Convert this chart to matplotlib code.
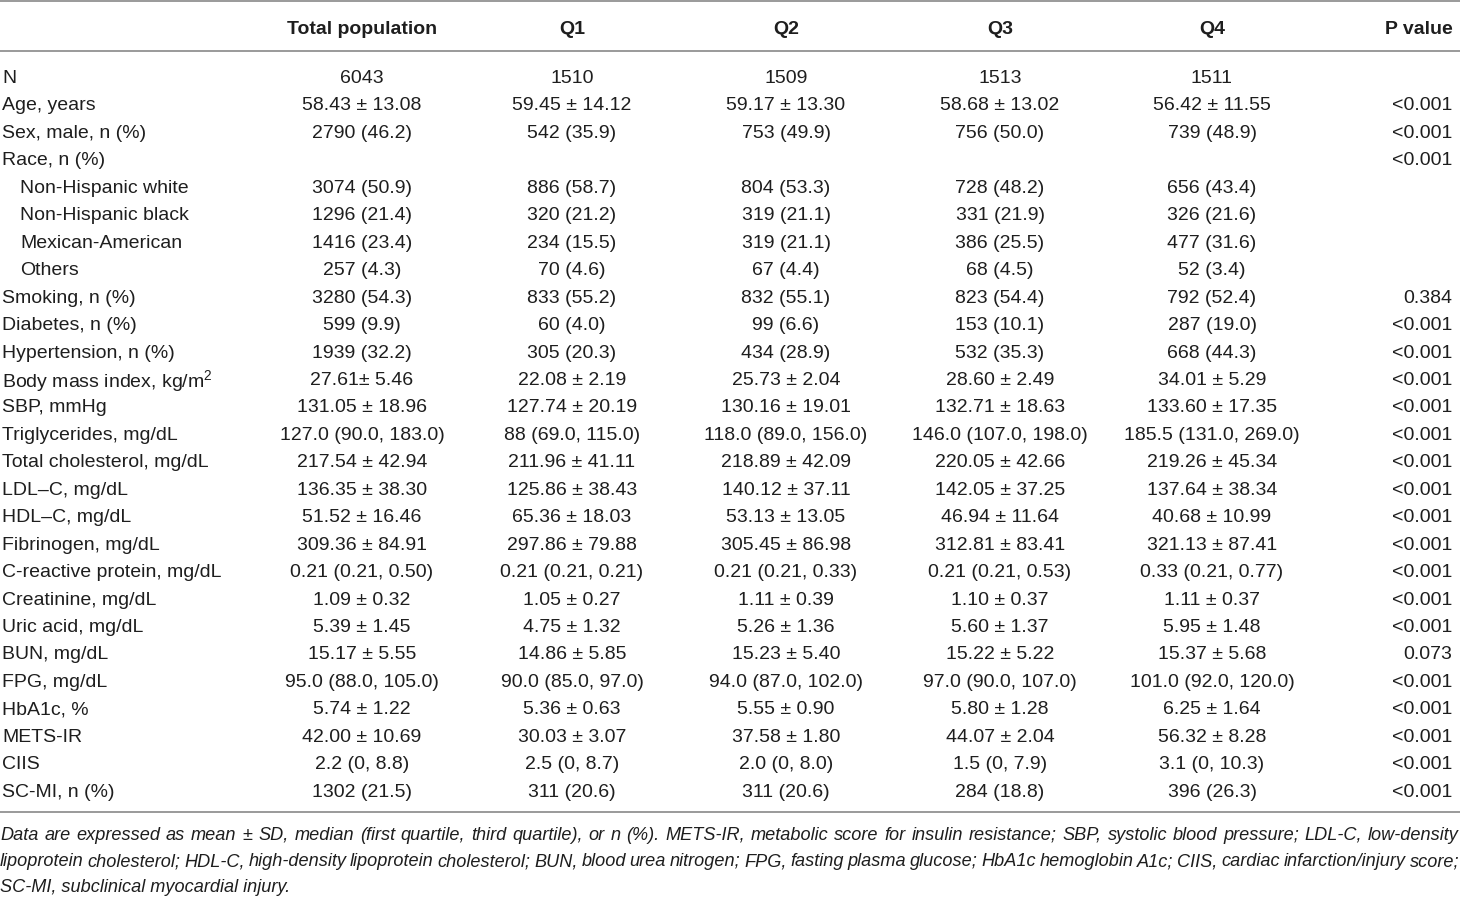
import matplotlib
matplotlib.use('Agg')
from matplotlib import pyplot as plt

plt.rcParams['font.family'] = ['Liberation Sans', 'DejaVu Sans']
plt.rcParams['mathtext.fontset'] = 'custom'
plt.rcParams['mathtext.rm'] = 'Liberation Sans'

headers = ['Total population', 'Q1', 'Q2', 'Q3', 'Q4', 'P value']

labels = ['N', 'Age, years', 'Sex, male, n (%)', 'Race, n (%)',
          'Non-Hispanic white', 'Non-Hispanic black', 'Mexican-American', 'Others',
          'Smoking, n (%)', 'Diabetes, n (%)', 'Hypertension, n (%)',
          'Body mass index, kg/m$^{2}$', 'SBP, mmHg', 'Triglycerides, mg/dL',
          'Total cholesterol, mg/dL', 'LDL\u2013C, mg/dL', 'HDL\u2013C, mg/dL',
          'Fibrinogen, mg/dL', 'C-reactive protein, mg/dL', 'Creatinine, mg/dL',
          'Uric acid, mg/dL', 'BUN, mg/dL', 'FPG, mg/dL', 'HbA1c, %', 'METS-IR',
          'CIIS', 'SC-MI, n (%)']
indented = [False, False, False, False, True, True, True, True] + [False] * 19

total = ['6043', '58.43 \u00b1 13.08', '2790 (46.2)', '', '3074 (50.9)', '1296 (21.4)',
         '1416 (23.4)', '257 (4.3)', '3280 (54.3)', '599 (9.9)', '1939 (32.2)',
         '27.61\u00b1 5.46', '131.05 \u00b1 18.96', '127.0 (90.0, 183.0)',
         '217.54 \u00b1 42.94', '136.35 \u00b1 38.30', '51.52 \u00b1 16.46',
         '309.36 \u00b1 84.91', '0.21 (0.21, 0.50)', '1.09 \u00b1 0.32',
         '5.39 \u00b1 1.45', '15.17 \u00b1 5.55', '95.0 (88.0, 105.0)',
         '5.74 \u00b1 1.22', '42.00 \u00b1 10.69', '2.2 (0, 8.8)', '1302 (21.5)']
q1 = ['1510', '59.45 \u00b1 14.12', '542 (35.9)', '', '886 (58.7)', '320 (21.2)',
      '234 (15.5)', '70 (4.6)', '833 (55.2)', '60 (4.0)', '305 (20.3)',
      '22.08 \u00b1 2.19', '127.74 \u00b1 20.19', '88 (69.0, 115.0)',
      '211.96 \u00b1 41.11', '125.86 \u00b1 38.43', '65.36 \u00b1 18.03',
      '297.86 \u00b1 79.88', '0.21 (0.21, 0.21)', '1.05 \u00b1 0.27',
      '4.75 \u00b1 1.32', '14.86 \u00b1 5.85', '90.0 (85.0, 97.0)',
      '5.36 \u00b1 0.63', '30.03 \u00b1 3.07', '2.5 (0, 8.7)', '311 (20.6)']
q2 = ['1509', '59.17 \u00b1 13.30', '753 (49.9)', '', '804 (53.3)', '319 (21.1)',
      '319 (21.1)', '67 (4.4)', '832 (55.1)', '99 (6.6)', '434 (28.9)',
      '25.73 \u00b1 2.04', '130.16 \u00b1 19.01', '118.0 (89.0, 156.0)',
      '218.89 \u00b1 42.09', '140.12 \u00b1 37.11', '53.13 \u00b1 13.05',
      '305.45 \u00b1 86.98', '0.21 (0.21, 0.33)', '1.11 \u00b1 0.39',
      '5.26 \u00b1 1.36', '15.23 \u00b1 5.40', '94.0 (87.0, 102.0)',
      '5.55 \u00b1 0.90', '37.58 \u00b1 1.80', '2.0 (0, 8.0)', '311 (20.6)']
q3 = ['1513', '58.68 \u00b1 13.02', '756 (50.0)', '', '728 (48.2)', '331 (21.9)',
      '386 (25.5)', '68 (4.5)', '823 (54.4)', '153 (10.1)', '532 (35.3)',
      '28.60 \u00b1 2.49', '132.71 \u00b1 18.63', '146.0 (107.0, 198.0)',
      '220.05 \u00b1 42.66', '142.05 \u00b1 37.25', '46.94 \u00b1 11.64',
      '312.81 \u00b1 83.41', '0.21 (0.21, 0.53)', '1.10 \u00b1 0.37',
      '5.60 \u00b1 1.37', '15.22 \u00b1 5.22', '97.0 (90.0, 107.0)',
      '5.80 \u00b1 1.28', '44.07 \u00b1 2.04', '1.5 (0, 7.9)', '284 (18.8)']
q4 = ['1511', '56.42 \u00b1 11.55', '739 (48.9)', '', '656 (43.4)', '326 (21.6)',
      '477 (31.6)', '52 (3.4)', '792 (52.4)', '287 (19.0)', '668 (44.3)',
      '34.01 \u00b1 5.29', '133.60 \u00b1 17.35', '185.5 (131.0, 269.0)',
      '219.26 \u00b1 45.34', '137.64 \u00b1 38.34', '40.68 \u00b1 10.99',
      '321.13 \u00b1 87.41', '0.33 (0.21, 0.77)', '1.11 \u00b1 0.37',
      '5.95 \u00b1 1.48', '15.37 \u00b1 5.68', '101.0 (92.0, 120.0)',
      '6.25 \u00b1 1.64', '56.32 \u00b1 8.28', '3.1 (0, 10.3)', '396 (26.3)']
pvals = ['', '<0.001', '<0.001', '<0.001', '', '', '', '', '0.384', '<0.001',
         '<0.001', '<0.001', '<0.001', '<0.001', '<0.001', '<0.001', '<0.001',
         '<0.001', '<0.001', '<0.001', '<0.001', '0.073', '<0.001', '<0.001',
         '<0.001', '<0.001', '<0.001']

footnote = [
    'Data are expressed as mean \u00b1 SD, median (first quartile, third quartile), or n (%). '
    'METS-IR, metabolic score for insulin resistance; SBP, systolic blood pressure; LDL-C, low-density',
    'lipoprotein cholesterol; HDL-C, high-density lipoprotein cholesterol; BUN, blood urea nitrogen; '
    'FPG, fasting plasma glucose; HbA1c hemoglobin A1c; CIIS, cardiac infarction/injury score;',
    'SC-MI, subclinical myocardial injury.',
]

W, H = 1460, 897
fig = plt.figure(figsize=(W / 100, H / 100), dpi=100)
ax = fig.add_axes([0, 0, 1, 1])
ax.set_xlim(0, W)
ax.set_ylim(H, 0)
ax.axis('off')

fs = 14
line_col = '#9a9a9a'
txt_col = '#1e1e1e'

# rules
for yy in [1.5, 51, 812]:
    ax.plot([0, W], [yy, yy], color=line_col, lw=1.4, solid_capstyle='butt')

col_x = [362, 572, 786, 1000, 1212]
header_y = 27
for x, h in zip(col_x, headers[:5]):
    ax.text(x, header_y, h, ha='center', va='center_baseline', fontsize=fs,
            fontweight='bold', color=txt_col)
ax.text(1419, header_y, headers[5], ha='center', va='center_baseline', fontsize=fs,
        fontweight='bold', color=txt_col)

row0, dy = 76.5, 27.45
columns = [total, q1, q2, q3, q4]
for i, lab in enumerate(labels):
    y = row0 + i * dy
    ax.text(20 if indented[i] else 2, y, lab, ha='left', va='center_baseline',
            fontsize=fs, color=txt_col)
    for x, col in zip(col_x, columns):
        ax.text(x, y, col[i], ha='center', va='center_baseline', fontsize=fs,
                color=txt_col)
    ax.text(1452, y, pvals[i], ha='right', va='center_baseline', fontsize=fs,
            color=txt_col)

# justified, italic footnote
fig.canvas.draw()
renderer = fig.canvas.get_renderer()
foot_y = [833, 860, 886]
foot_fs = 13.1
for k, line in enumerate(footnote):
    words = line.split(' ')
    if k == len(footnote) - 1:
        ax.text(0, foot_y[k], line, ha='left', va='center_baseline', fontsize=foot_fs,
                style='italic', color=txt_col)
        continue
    arts = [ax.text(0, foot_y[k], w, ha='left', va='center_baseline', fontsize=foot_fs,
                    style='italic', color=txt_col) for w in words]
    widths = [a.get_window_extent(renderer).width for a in arts]
    gap = (W - 1 - sum(widths)) / (len(words) - 1)
    x = 0
    for a, w in zip(arts, widths):
        a.set_x(x)
        x += w + gap

fig.savefig('out.png', dpi=100)
